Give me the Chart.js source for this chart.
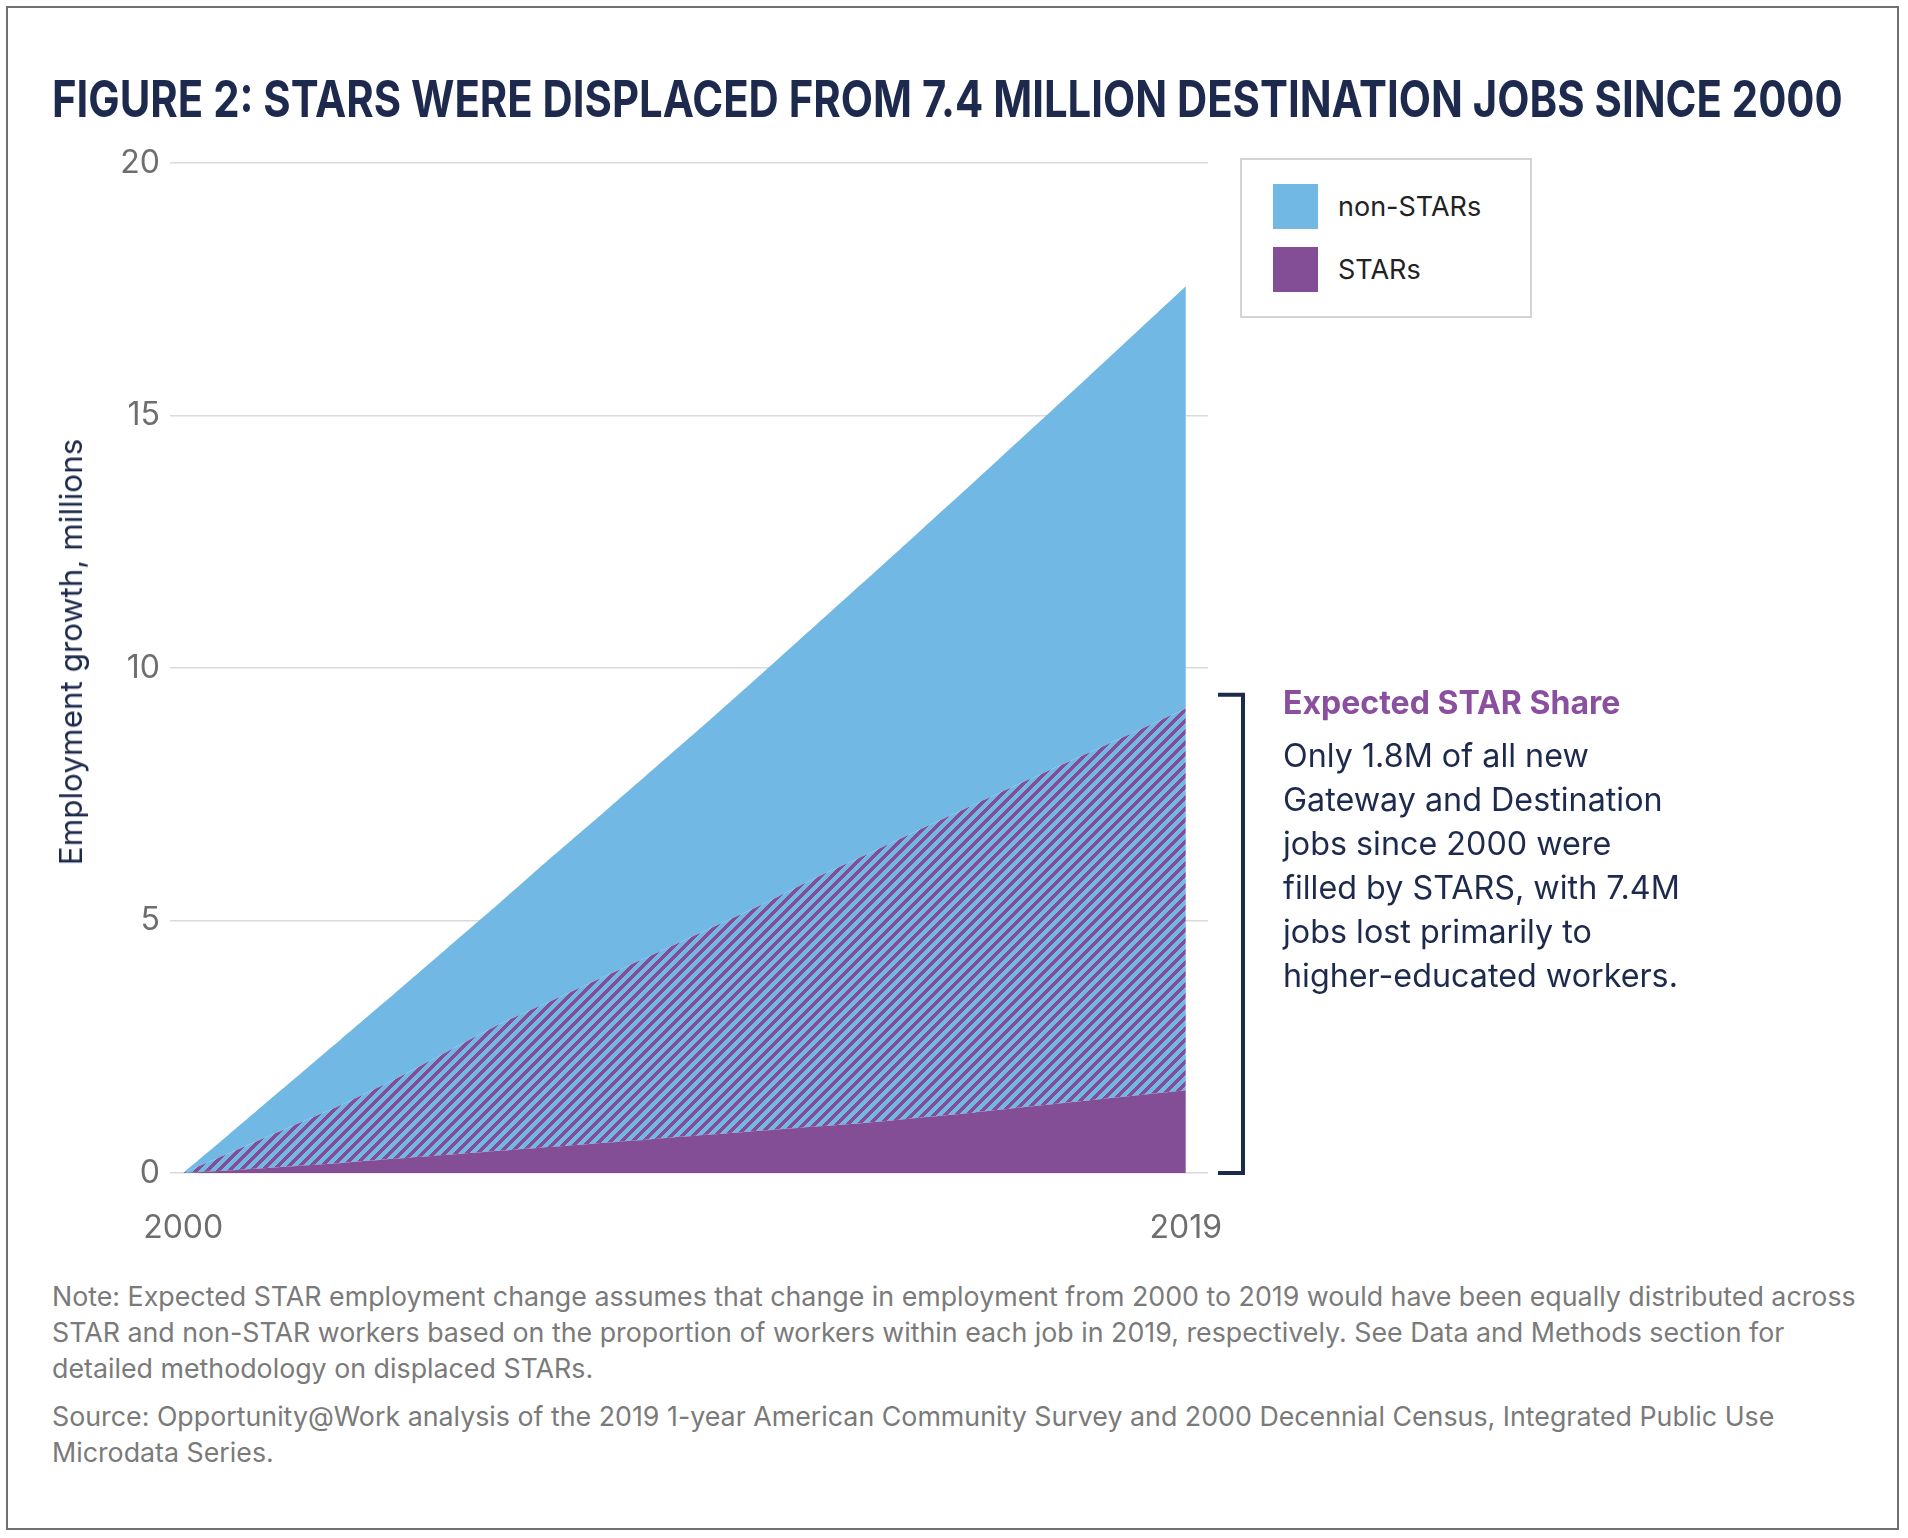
<!DOCTYPE html>
<html>
<head>
<meta charset="utf-8">
<script src="https://cdn.jsdelivr.net/npm/chart.js@4.4.1/dist/chart.umd.min.js"></script>
<style>
  html, body { margin: 0; padding: 0; background: #fff; }
  body { width: 1908px; height: 1538px; position: relative; overflow: hidden; font-family: Inter, "Noto Sans", sans-serif; }
  #frame { position: absolute; left: 6px; top: 6px; width: 1893px; height: 1524px; border: 2px solid #707070; box-sizing: border-box; }
  #chart { position: absolute; left: 0; top: 0; }
  .txt { position: absolute; white-space: nowrap; }
  #title { left: 52px; top: 73px; font-size: 51px; line-height: 51px; font-weight: 700; color: #1d2a4d; transform-origin: 0 50%; }
  #ytitle { left: 71px; top: 652px; font-size: 30px; line-height: 30px; color: #1d2a4d; transform: translate(-50%, -50%) rotate(-90deg); }
  #legend { position: absolute; left: 1240px; top: 158px; width: 292px; height: 160px; border: 2px solid #d4d4d4; box-sizing: border-box; background: #fff; }
  .swatch { position: absolute; left: 1273px; width: 45px; height: 45px; }
  .ltext { left: 1338px; font-size: 27px; line-height: 27px; color: #222; }
  #ahead { left: 1283px; top: 688px; font-size: 29px; line-height: 29px; font-weight: 700; color: #8a4f9e; }
  #abody { left: 1283px; top: 734px; font-size: 30px; line-height: 44px; color: #1d2a4d; }
  #notes { left: 52px; top: 1278px; font-size: 24px; line-height: 36px; color: #7a7a7a; }
  #notes p { margin: 0; }
  #notes p + p { margin-top: 12px; }
</style>
</head>
<body>
<div id="frame"></div>
<canvas id="chart" width="1908" height="1260"></canvas>
<div id="title" class="txt">FIGURE 2: STARS WERE DISPLACED FROM 7.4 MILLION DESTINATION JOBS SINCE 2000</div>
<div id="ytitle" class="txt">Employment growth, millions</div>
<div id="legend"></div>
<div id="ahead" class="txt">Expected STAR Share</div>
<div id="abody" class="txt">Only 1.8M of all new<br><span id="fitline">Gateway and Destination</span><br>jobs since 2000 were<br>filled by STARS, with 7.4M<br>jobs lost primarily to<br>higher-educated workers.</div>
<div id="notes" class="txt">
  <p><span id="noteline">Note: Expected STAR employment change assumes that change in employment from 2000 to 2019 would have been equally distributed across</span><br>STAR and non-STAR workers based on the proportion of workers within each job in 2019, respectively. See Data and Methods section for<br>detailed methodology on displaced STARs.</p>
  <p>Source: Opportunity@Work analysis of the 2019 1-year American Community Survey and 2000 Decennial Census, Integrated Public Use<br>Microdata Series.</p>
</div>
<script>
// data, millions of jobs added since 2000
var years = [2000, 2001, 2002, 2003, 2004, 2005, 2006, 2007, 2008, 2009, 2010, 2011, 2012, 2013, 2014, 2015, 2016, 2017, 2018, 2019];
var allNewJobs = [0, 0.88, 1.77, 2.66, 3.55, 4.45, 5.35, 6.27, 7.17, 8.08, 8.99, 9.92, 10.86, 11.8, 12.75, 13.7, 14.66, 15.62, 16.59, 17.56];
var expectedStarShare = [0, 0.45, 0.9, 1.35, 1.85, 2.4, 2.95, 3.42, 3.9, 4.37, 4.85, 5.33, 5.85, 6.33, 6.82, 7.3, 7.78, 8.25, 8.72, 9.2];
var starJobs = [0, 0.06, 0.13, 0.2, 0.28, 0.36, 0.44, 0.52, 0.6, 0.68, 0.76, 0.84, 0.92, 1.0, 1.1, 1.2, 1.31, 1.42, 1.53, 1.64];
var yTicks = [0, 5, 10, 15, 20];
var xTicks = [2000, 2019];
var bracketSpan = [0, 9.47];
var legendNames = ['non-STARs', 'STARs'];

var blue = '#71b9e4';
var purple = '#844e96';
var navy = '#1d2a4d';
var legendColors = [blue, purple];

function points(vals) {
    return years.map(function (yr, i) { return {x: yr, y: vals[i]}; });
}

// crisp purple diagonal stripes on blue, pixel by pixel
function stripes() {
    var n = 11, band = 5;
    var c = document.createElement('canvas');
    c.width = n; c.height = n;
    var g = c.getContext('2d');
    var img = g.createImageData(n, n);
    var b = [0x71, 0xb9, 0xe4], p = [0x84, 0x4e, 0x96];
    for (var y = 0; y < n; y++) {
        for (var x = 0; x < n; x++) {
            var col = ((x + y) % n) < band ? p : b;
            var k = (y * n + x) * 4;
            img.data[k] = col[0]; img.data[k + 1] = col[1]; img.data[k + 2] = col[2]; img.data[k + 3] = 255;
        }
    }
    g.putImageData(img, 0, 0);
    return g.createPattern(c, 'repeat');
}

// bracket next to the plot, from 0 up to the expected share
var bracket = {
    id: 'bracket',
    afterDraw: function (chart) {
        var ctx = chart.ctx, y = chart.scales.y;
        var x = chart.chartArea.right + 35;
        var top = y.getPixelForValue(bracketSpan[1]);
        var bot = y.getPixelForValue(bracketSpan[0]);
        ctx.save();
        ctx.strokeStyle = navy;
        ctx.lineWidth = 4;
        ctx.lineJoin = 'miter';
        ctx.beginPath();
        ctx.moveTo(x - 25, top);
        ctx.lineTo(x, top);
        ctx.lineTo(x, bot);
        ctx.lineTo(x - 25, bot);
        ctx.stroke();
        ctx.restore();
    }
};

var tickFont = {family: 'Inter', size: 32, weight: 400};

var ctx = document.getElementById('chart').getContext('2d');
var chart = new Chart(ctx, {
    type: 'line',
    data: {
        datasets: [{
            label: 'STARs',
            data: points(starJobs),
            backgroundColor: purple,
            fill: 'origin'
        }, {
            label: 'Expected STAR Share',
            data: points(expectedStarShare),
            backgroundColor: stripes(),
            fill: '-1'
        }, {
            label: 'non-STARs',
            data: points(allNewJobs),
            backgroundColor: blue,
            fill: '-1'
        }]
    },
    options: {
        responsive: false,
        animation: false,
        devicePixelRatio: 1,
        layout: {padding: {left: 0, top: 163, right: 700, bottom: 0}},
        elements: {
            line: {borderWidth: 0, tension: 0.2},
            point: {radius: 0, hoverRadius: 0}
        },
        plugins: {legend: {display: false}, tooltip: {enabled: false}},
        scales: {
            x: {
                type: 'linear',
                min: 1999.75,
                max: 2019.42,
                afterBuildTicks: function (s) { s.ticks = xTicks.map(function (v) { return {value: v}; }); },
                afterFit: function (s) { s.height = 87; },
                grid: {display: false},
                border: {display: false},
                ticks: {
                    padding: 28,
                    color: '#6e6e6e',
                    font: tickFont,
                    maxRotation: 0,
                    autoSkip: false,
                    callback: function (v) { return String(v); }
                }
            },
            y: {
                min: 0,
                max: 20,
                afterBuildTicks: function (s) { s.ticks = yTicks.map(function (v) { return {value: v}; }); },
                afterFit: function (s) { s.width = 170; },
                grid: {color: '#dadada', lineWidth: 1.5, drawTicks: false},
                border: {display: false},
                ticks: {padding: 10, color: '#6e6e6e', font: tickFont}
            }
        }
    },
    plugins: [bracket]
});

// legend boxes
var legend = document.getElementById('legend');
legendNames.forEach(function (name, i) {
    var sw = document.createElement('div');
    sw.className = 'swatch';
    sw.style.background = legendColors[i];
    sw.style.top = (184 + i * 63) + 'px';
    document.body.appendChild(sw);
    var t = document.createElement('div');
    t.className = 'txt ltext';
    t.textContent = name;
    t.style.top = (193 + i * 63) + 'px';
    document.body.appendChild(t);
});

// match text widths to the original
function fitFont(el, sizeEl, target) {
    var w = el.offsetWidth;
    var f = parseFloat(getComputedStyle(sizeEl).fontSize);
    sizeEl.style.fontSize = (f * target / w).toFixed(2) + 'px';
}
var title = document.getElementById('title');
title.style.transform = 'scaleX(' + (1791 / title.offsetWidth).toFixed(4) + ')';
fitFont(document.getElementById('ytitle'), document.getElementById('ytitle'), 427);
fitFont(document.getElementById('ahead'), document.getElementById('ahead'), 337);
fitFont(document.getElementById('fitline'), document.getElementById('abody'), 380);
fitFont(document.getElementById('noteline'), document.getElementById('notes'), 1804);
</script>
</body>
</html>
